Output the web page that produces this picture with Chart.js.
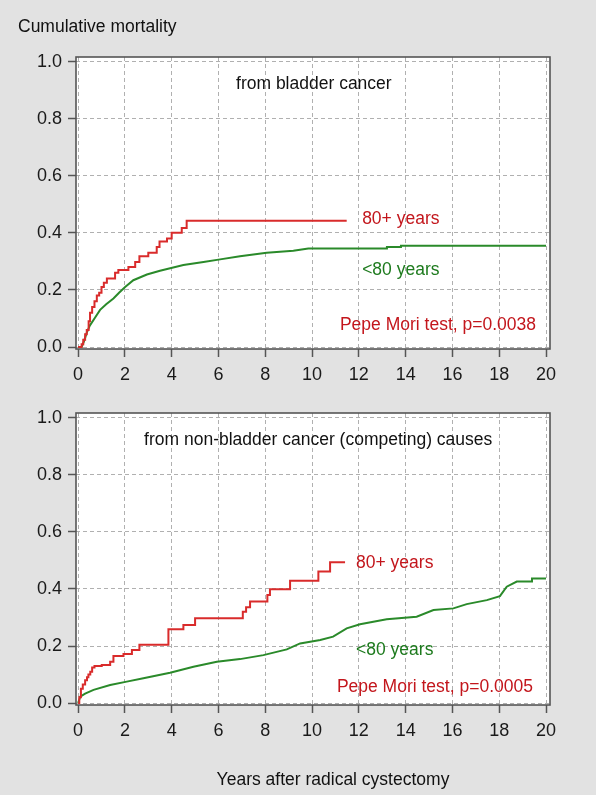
<!DOCTYPE html>
<html>
<head>
<meta charset="utf-8">
<script src="https://cdn.jsdelivr.net/npm/chart.js@4.4.1/dist/chart.umd.min.js"></script>
<style>
  body { margin: 0; background: #e2e2e2; }
  #wrap { position: relative; width: 596px; height: 795px; overflow: hidden; }
  canvas { position: absolute; left: 0; }
  #topChart { top: 0; }
  #bottomChart { top: 390px; }
</style>
</head>
<body>
<div id="wrap">
  <canvas id="topChart" width="596" height="390"></canvas>
  <canvas id="bottomChart" width="596" height="405"></canvas>
</div>
<script>
    // tick labels
    var xTicks = [0, 2, 4, 6, 8, 10, 12, 14, 16, 18, 20];
    var yTicks = [0, 0.2, 0.4, 0.6, 0.8, 1.0];

    // from bladder cancer, 80+ years (step points: year of jump, new value)
    var bladderOldYears = [0, 0.15, 0.22, 0.3, 0.37, 0.45, 0.51, 0.6, 0.7, 0.8, 0.9, 1.0, 1.1, 1.23, 1.58, 1.72, 2.15, 2.44, 2.62, 3.0, 3.36, 3.48, 3.8, 4.0, 4.43, 4.64, 11.48];
    var bladderOldRisk  = [0, 0.01, 0.025, 0.045, 0.06, 0.09, 0.12, 0.14, 0.16, 0.18, 0.19, 0.21, 0.225, 0.24, 0.26, 0.27, 0.28, 0.298, 0.318, 0.33, 0.35, 0.37, 0.38, 0.40, 0.417, 0.442, 0.442];

    // from bladder cancer, <80 years
    var bladderYoungYears = [0, 0.15, 0.25, 0.37, 0.5, 0.7, 0.94, 1.2, 1.51, 1.75, 2.01, 2.36, 2.94, 3.5, 4.5, 5.36, 6.07, 6.92, 8.06, 9.2, 9.84, 13.19, 13.2, 13.79, 13.8, 20];
    var bladderYoungRisk  = [0, 0, 0.02, 0.05, 0.075, 0.1, 0.13, 0.15, 0.17, 0.19, 0.21, 0.234, 0.254, 0.267, 0.287, 0.298, 0.307, 0.318, 0.33, 0.337, 0.345, 0.345, 0.35, 0.35, 0.355, 0.355];

    // from non-bladder cancer causes, 80+ years
    var otherOldYears = [0, 0.05, 0.12, 0.2, 0.3, 0.38, 0.44, 0.52, 0.6, 0.7, 1.01, 1.37, 1.51, 1.94, 2.3, 2.62, 3.86, 4.5, 5.0, 7.04, 7.18, 7.35, 8.09, 8.2, 9.06, 10.27, 10.77, 11.41];
    var otherOldRisk  = [0, 0.02, 0.05, 0.065, 0.08, 0.09, 0.1, 0.11, 0.125, 0.13, 0.133, 0.145, 0.165, 0.172, 0.186, 0.204, 0.259, 0.274, 0.297, 0.32, 0.336, 0.356, 0.379, 0.399, 0.429, 0.461, 0.494, 0.494];

    // from non-bladder cancer causes, <80 years
    var otherYoungYears = [0, 0.09, 0.3, 0.66, 1.37, 2.08, 2.79, 3.93, 4.93, 5.93, 6.92, 7.92, 8.92, 9.49, 10.35, 10.9, 11.48, 12.05, 13.19, 14.47, 15.19, 16.04, 16.61, 17.47, 18.03, 18.32, 18.75, 19.39, 19.4, 20];
    var otherYoungRisk  = [0, 0.022, 0.033, 0.046, 0.063, 0.075, 0.087, 0.106, 0.127, 0.145, 0.154, 0.168, 0.188, 0.209, 0.221, 0.233, 0.262, 0.276, 0.294, 0.303, 0.326, 0.332, 0.347, 0.361, 0.375, 0.408, 0.426, 0.426, 0.437, 0.437];

    var RED_LINE = '#d92b2b';
    var RED_TEXT = '#c3161c';
    var GREEN_LINE = '#2a8a2a';
    var GREEN_TEXT = '#1d7a1d';
    var FONT = "'Liberation Sans', Arial, sans-serif";

    function toPoints(xs, ys) {
      var pts = [];
      for (var i = 0; i < xs.length; i++) {
        pts.push({ x: xs[i], y: ys[i] });
      }
      return pts;
    }

    // white plot area, frame and the text notes
    var panelPlugin = {
      id: 'panel',
      beforeDraw: function(chart) {
        var a = chart.chartArea;
        var c = chart.ctx;
        c.save();
        c.fillStyle = '#ffffff';
        c.fillRect(a.left, a.top, a.right - a.left, a.bottom - a.top);
        c.restore();
      },
      afterDatasetsDraw: function(chart, args, opts) {
        var a = chart.chartArea;
        var c = chart.ctx;
        c.save();
        c.strokeStyle = '#555555';
        c.lineWidth = 1.6;
        c.strokeRect(a.left, a.top, a.right - a.left, a.bottom - a.top);
        c.textBaseline = 'middle';
        (opts.notes || []).forEach(function(n) {
          c.font = (n.size || 17.5) + 'px ' + FONT;
          c.fillStyle = n.color || '#111111';
          c.textAlign = n.align || 'left';
          var px = n.pixel ? n.x : chart.scales.x.getPixelForValue(n.x);
          var py = n.pixel ? n.y : chart.scales.y.getPixelForValue(n.y);
          c.fillText(n.text, px, py);
        });
        c.restore();
      }
    };

    function createPanel(id, datasets, padding, yMax, notes) {
      var ctx = document.getElementById(id).getContext('2d');
      return new Chart(ctx, {
        type: 'line',
        data: { datasets: datasets },
        options: {
          responsive: false,
          animation: false,
          layout: { padding: padding },
          elements: { point: { radius: 0 }, line: { tension: 0, borderWidth: 2 } },
          scales: {
            x: {
              type: 'linear',
              min: -0.09,
              max: 20.17,
              afterBuildTicks: function(s) { s.ticks = xTicks.map(function(v) { return { value: v }; }); },
              afterFit: function(s) { s.height = 41; },
              ticks: {
                padding: 7,
                color: '#1a1a1a',
                font: { family: FONT, size: 18 },
                maxRotation: 0,
                callback: function(v) { return String(v); }
              },
              grid: { color: '#b0b0b0', lineWidth: 1, tickLength: 8, tickColor: '#555555', tickWidth: 1.5 },
              border: { display: false, dash: [4, 3] }
            },
            y: {
              type: 'linear',
              min: -0.007,
              max: yMax,
              afterBuildTicks: function(s) { s.ticks = yTicks.map(function(v) { return { value: v }; }); },
              afterFit: function(s) { s.width = 76; },
              ticks: {
                padding: 6,
                color: '#1a1a1a',
                font: { family: FONT, size: 18 },
                callback: function(v) { return Number(v).toFixed(1); }
              },
              grid: { color: '#b0b0b0', lineWidth: 1, tickLength: 8, tickColor: '#555555', tickWidth: 1.5 },
              border: { display: false, dash: [4, 3] }
            }
          },
          plugins: {
            legend: { display: false },
            tooltip: { enabled: false },
            panel: { notes: notes }
          }
        },
        plugins: [panelPlugin]
      });
    }

    var topChart = createPanel('topChart', [
      { label: '80+ years', data: toPoints(bladderOldYears, bladderOldRisk), borderColor: RED_LINE, stepped: 'before' },
      { label: '<80 years', data: toPoints(bladderYoungYears, bladderYoungRisk), borderColor: GREEN_LINE }
    ], { left: 0, top: 57, right: 46, bottom: 0 }, 1.016, [
      { text: 'Cumulative mortality', x: 18, y: 27, pixel: true, size: 17.5 },
      { text: 'from bladder cancer', x: 6.75, y: 0.92 },
      { text: '80+ years', x: 12.14, y: 0.448, color: RED_TEXT },
      { text: '<80 years', x: 12.14, y: 0.27, color: GREEN_TEXT },
      { text: 'Pepe Mori test, p=0.0038', x: 19.57, y: 0.077, color: RED_TEXT, align: 'right' }
    ]);

    var bottomChart = createPanel('bottomChart', [
      { label: '80+ years', data: toPoints(otherOldYears, otherOldRisk), borderColor: RED_LINE, stepped: 'before' },
      { label: '<80 years', data: toPoints(otherYoungYears, otherYoungRisk), borderColor: GREEN_LINE }
    ], { left: 0, top: 23, right: 46, bottom: 49 }, 1.0175, [
      { text: 'from non-bladder cancer (competing) causes', x: 2.82, y: 0.923 },
      { text: '80+ years', x: 11.88, y: 0.491, color: RED_TEXT },
      { text: '<80 years', x: 11.88, y: 0.186, color: GREEN_TEXT },
      { text: 'Pepe Mori test, p=0.0005', x: 19.44, y: 0.056, color: RED_TEXT, align: 'right' },
      { text: 'Years after radical cystectomy', x: 333, y: 390, pixel: true, align: 'center' }
    ]);
</script>
</body>
</html>
